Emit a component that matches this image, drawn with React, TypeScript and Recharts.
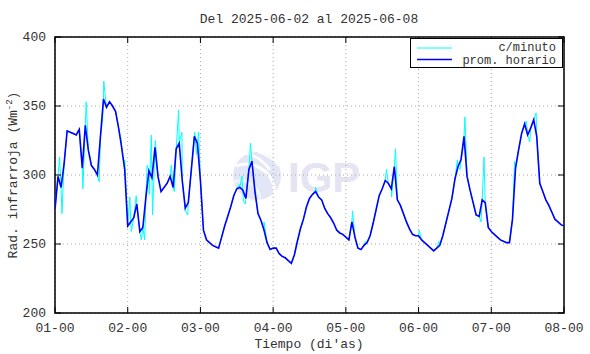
import React from 'react'
import { LineChart, Line, XAxis, YAxis, CartesianGrid, ReferenceArea, Legend } from 'recharts'

// x tick labels (one per day, hour 00)
const DAY_LABELS = ['01-00', '02-00', '03-00', '04-00', '05-00', '06-00', '07-00', '08-00']
const Y_TICKS = [200, 250, 300, 350, 400]

// hourly mean (prom. horario), W/m2, one array per day
const day1 = [275, 299, 291, 308, 332, 331, 330, 329, 333, 305, 336, 318, 307, 304, 300, 328, 355, 349, 353, 350, 346, 334, 320, 304]
const day2 = [263, 266, 269, 279, 259, 262, 284, 303, 298, 320, 299, 288, 291, 294, 299, 291, 319, 323, 296, 276, 280, 304, 328, 323]
const day3 = [296, 260, 253, 251, 249, 248, 247, 255, 263, 270, 277, 285, 290, 291, 289, 283, 304, 310, 288, 272, 267, 260, 251, 246]
const day4 = [247, 247, 243, 241, 240, 238, 236, 242, 252, 261, 268, 277, 283, 286, 288, 284, 282, 276, 272, 269, 265, 260, 258, 257]
const day5 = [255, 253, 266, 255, 247, 246, 249, 251, 256, 265, 275, 285, 290, 296, 294, 290, 306, 282, 278, 272, 266, 261, 257, 256]
const day6 = [256, 253, 251, 249, 247, 245, 247, 249, 256, 265, 274, 283, 297, 306, 311, 328, 299, 289, 280, 271, 270, 282, 280, 262]
const day7 = [259, 257, 255, 253, 252, 251, 251, 268, 305, 318, 330, 337, 329, 334, 340, 328, 294, 288, 282, 278, 273, 268, 266, 264]
const lastHour = 263

// per-minute excursions visible around the hourly line: [hour, value]
const minuteSpikes: [number, number][] = [
  [1.5, 313], [2.3, 272], [9.2, 290], [10.3, 353], [11.5, 314], [14.6, 295], [15.7, 340], [16.1, 368],
  [21.9, 325], [23, 311], [23.9, 270], [24.7, 284], [25.2, 259], [26.8, 285], [28.5, 253], [29.6, 253],
  [30.4, 307], [31.1, 286], [31.8, 329], [32.2, 271], [33.1, 325], [38.4, 307], [39.4, 288], [40.8, 347],
  [41.9, 331], [43, 274], [43.8, 271], [46.1, 331], [46.7, 315], [47.4, 331], [60.8, 293], [61.7, 299],
  [62.2, 281], [62.8, 279], [64.5, 323], [65, 310], [69, 266], [86, 291], [98.2, 274], [102.5, 252],
  [109.4, 304], [111.1, 284], [112.4, 319], [120.2, 260], [126.7, 252], [132.8, 311], [133.7, 304],
  [134.6, 318], [135.3, 342], [140.6, 266], [141.6, 313], [151.7, 310], [155.6, 339], [156.7, 324],
  [158.8, 345], [163.3, 276],
]

const hourly = [...day1, ...day2, ...day3, ...day4, ...day5, ...day6, ...day7, lastHour].map((v, i) => ({ t: i, v }))
const perMinute = [...hourly, ...minuteSpikes.map(([t, v]) => ({ t, v }))].sort((a, b) => a.t - b.t)

const W = 590
const H = 354
const PLOT = { left: 55, right: 564, top: 37, bottom: 313 }
const FONT = '"Liberation Mono", "DejaVu Sans Mono", monospace'
const TEXT = '#333'
const TICK = 6

function XTick({ x, payload }: any) {
  const label = DAY_LABELS[Math.round(payload.value / 24)]
  return (
    <g>
      <line x1={x} x2={x} y1={PLOT.bottom} y2={PLOT.bottom - TICK} stroke="#000" />
      <line x1={x} x2={x} y1={PLOT.top} y2={PLOT.top + TICK} stroke="#000" />
      <text x={x} y={PLOT.bottom + 19} textAnchor="middle" fontFamily={FONT} fontSize={13} fill={TEXT}>
        {label}
      </text>
    </g>
  )
}

function YTick({ y, payload }: any) {
  return (
    <g>
      <line x1={PLOT.left} x2={PLOT.left + TICK} y1={y} y2={y} stroke="#000" />
      <line x1={PLOT.right} x2={PLOT.right - TICK} y1={y} y2={y} stroke="#000" />
      <text x={PLOT.left - 9} y={y + 4} textAnchor="end" fontFamily={FONT} fontSize={13} fill={TEXT}>
        {payload.value}
      </text>
    </g>
  )
}

function LegendBox() {
  return (
    <svg width={153} height={30} style={{ display: 'block' }}>
      <rect x={0.5} y={0.5} width={152} height={29} fill="#fff" stroke="#000" />
      <line x1={7} x2={42} y1={10} y2={10} stroke="#00ffff" strokeWidth={1.2} />
      <line x1={7} x2={42} y1={21.5} y2={21.5} stroke="#0000ff" strokeWidth={1.7} />
      <text x={146} y={13} textAnchor="end" fontFamily={FONT} fontSize={12} fill={TEXT}>c/minuto</text>
      <text x={146} y={26} textAnchor="end" fontFamily={FONT} fontSize={12} fill={TEXT}>prom. horario</text>
    </svg>
  )
}

function Backdrop() {
  // IGP watermark + title and axis titles
  return (
    <svg width={W} height={H} style={{ position: 'absolute', left: 0, top: 0 }}>
      <g opacity={0.9}>
        <circle cx={257} cy={176} r={24} fill="#e1e4f6" />
        <path d="M236 166 Q252 160 266 172 Q276 182 274 196" stroke="#fff" strokeWidth={3} fill="none" />
        <path d="M246 153 Q262 158 270 170" stroke="#fff" strokeWidth={2.5} fill="none" />
        <path d="M258 152 Q272 156 279 166" stroke="#fff" strokeWidth={2} fill="none" />
        <path d="M234 182 Q244 178 254 186 Q260 192 260 200" stroke="#eef4fc" strokeWidth={3} fill="none" />
        <text x={288} y={192} fontFamily='"Liberation Sans", Arial, sans-serif' fontWeight="bold" fontSize={42} fill="#e2e2f2">
          IGP
        </text>
      </g>
      <text x={309} y={23} textAnchor="middle" fontFamily={FONT} fontSize={13} fill={TEXT}>
        Del 2025-06-02 al 2025-06-08
      </text>
      <text x={309} y={348} textAnchor="middle" fontFamily={FONT} fontSize={13} fill={TEXT}>
        Tiempo (di'as)
      </text>
      <text
        x={17}
        y={175}
        transform="rotate(-90 17 175)"
        textAnchor="middle"
        fontFamily={FONT}
        fontSize={13}
        fill={TEXT}
      >
        Rad. infrarroja (Wm
        <tspan fontSize={9} dy={-5}>-2</tspan>
        <tspan dy={5}>)</tspan>
      </text>
    </svg>
  )
}

export default function App() {
  return (
    <div style={{ position: 'absolute', left: 0, top: 0, width: W, height: H, background: '#fff' }}>
      <Backdrop />
      <div style={{ position: 'absolute', left: 0, top: 0 }}>
        <LineChart
          width={W}
          height={H}
          margin={{ top: PLOT.top, right: W - PLOT.right, bottom: 0, left: 0 }}
        >
          <CartesianGrid stroke="#a8a8a8" strokeDasharray="1 3" />
          <XAxis
            dataKey="t"
            type="number"
            domain={[0, 168]}
            ticks={DAY_LABELS.map((_, i) => i * 24)}
            height={H - PLOT.bottom}
            axisLine={false}
            tickLine={false}
            tick={<XTick />}
            allowDataOverflow
          />
          <YAxis
            type="number"
            domain={[200, 400]}
            ticks={Y_TICKS}
            width={PLOT.left}
            axisLine={false}
            tickLine={false}
            tick={<YTick />}
            allowDataOverflow
          />
          <Legend
            layout="horizontal"
            verticalAlign="middle"
            align="center"
            wrapperStyle={{ left: 410, top: 38, width: 153, height: 30 }}
            content={() => <LegendBox />}
          />
          <Line
            data={perMinute}
            dataKey="v"
            name="c/minuto"
            type="linear"
            stroke="#00ffff"
            strokeWidth={1}
            dot={false}
            isAnimationActive={false}
          />
          <Line
            data={hourly}
            dataKey="v"
            name="prom. horario"
            type="linear"
            stroke="#0000ff"
            strokeWidth={1.6}
            dot={false}
            isAnimationActive={false}
          />
          <ReferenceArea x1={0} x2={168} y1={200} y2={400} fill="none" stroke="#000" strokeWidth={1.5} />
        </LineChart>
      </div>
    </div>
  )
}
